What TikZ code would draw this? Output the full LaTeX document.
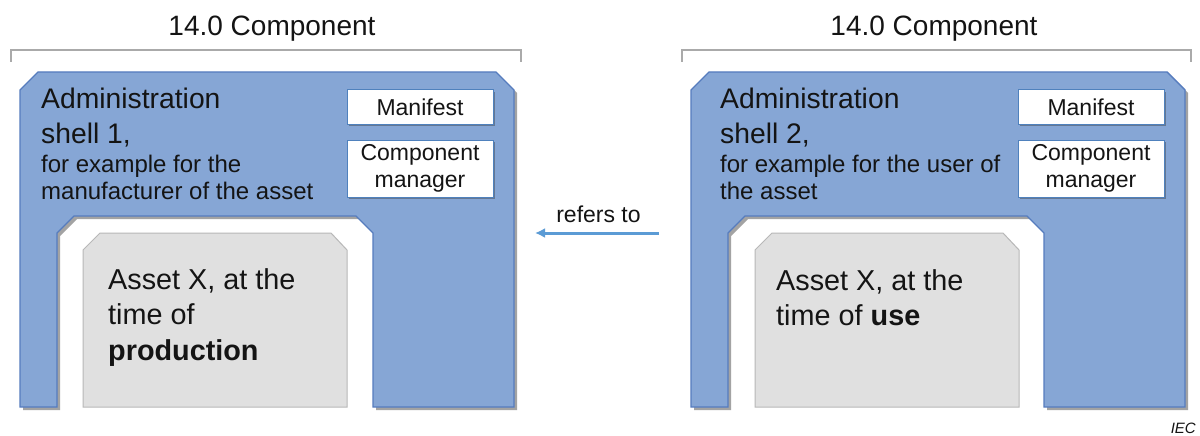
\documentclass[tikz,border=0pt]{standalone}
\usepackage{fontspec}
\setmainfont{Liberation Sans}
\usetikzlibrary{shadows,arrows.meta}
\definecolor{shellblue}{RGB}{134,166,213}
\definecolor{shellborder}{RGB}{86,124,190}
\definecolor{assetgray}{RGB}{224,224,224}
\definecolor{assetborder}{RGB}{184,184,184}
\definecolor{arrowblue}{RGB}{91,155,213}
\definecolor{bracketgray}{RGB}{170,170,170}
\definecolor{boxborder}{RGB}{79,129,189}
\definecolor{txt}{RGB}{20,20,20}
\begin{document}
\begin{tikzpicture}[x=1pt,y=-1pt,
  shell/.style={fill=shellblue, draw=shellborder, line width=1.4pt, line join=miter,
    drop shadow={shadow xshift=3pt, shadow yshift=-3pt, opacity=0.45, fill=black!80}},
  asset/.style={fill=assetgray, draw=assetborder, line width=1pt},
  bracket/.style={draw=bracketgray, line width=1.5pt},
  mbox/.style={fill=white, draw=boxborder, line width=1pt, inner sep=0pt,
    minimum width=146pt, align=center, text=txt,
    font=\fontsize{23}{27}\selectfont,
    drop shadow={shadow xshift=2pt, shadow yshift=-2pt, opacity=0.4, fill=black!80}},
  title/.style={font=\fontsize{28}{32}\selectfont, anchor=base, inner sep=0pt, text=txt},
  bigtxt/.style={font=\fontsize{28.3}{32}\selectfont, anchor=base west, inner sep=0pt, text=txt},
  smalltxt/.style={font=\fontsize{24}{27}\selectfont, anchor=base west, inner sep=0pt, text=txt},
  assettxt/.style={font=\fontsize{28.8}{35}\selectfont, anchor=base west, inner sep=0pt, text=txt},
  reftxt/.style={font=\fontsize{23}{25}\selectfont, anchor=base, inner sep=0pt, text=txt},
  refarrow/.style={draw=arrowblue, line width=3pt, -{Latex[length=10pt,width=10pt]}}
]
\useasboundingbox[fill=white] (0,0) rectangle (1200,436);

% ---------- titles and brackets ----------
\node[title] (t1) at (272,36) {14.0 Component};
\node[title] (t2) at (934,36) {14.0 Component};
\draw[bracket] (11,62) -- (11,50) -- (521,50) -- (521,62);
\draw[bracket] (682,62) -- (682,50) -- (1191,50) -- (1191,62);

% ---------- left shell ----------
\path[shell] (20,407) -- (20,90) -- (38,72) -- (496,72) -- (514,90) -- (514,407)
  -- (373,407) -- (373,233) -- (356,216) -- (74,216) -- (57,233) -- (57,407) -- cycle;
\path[asset] (83,407) -- (83,250) -- (100,233) -- (331,233) -- (347,250) -- (347,407) -- cycle;

% ---------- right shell ----------
\path[shell] (691,407) -- (691,90) -- (709,72) -- (1167,72) -- (1185,90) -- (1185,407)
  -- (1044,407) -- (1044,233) -- (1027,216) -- (745,216) -- (728,233) -- (728,407) -- cycle;
\path[asset] (755,407) -- (755,250) -- (772,233) -- (1003,233) -- (1019,250) -- (1019,407) -- cycle;

% ---------- boxes ----------
\node[mbox, minimum height=34pt] (man1) at (420,107) {Manifest};
\node[mbox, minimum height=57pt] (cm1) at (420,168.5) {Component\\manager};
\node[mbox, minimum height=34pt] (man2) at (1091,107) {Manifest};
\node[mbox, minimum height=57pt] (cm2) at (1091,168.5) {Component\\manager};

% ---------- left texts ----------
\node[bigtxt] (a1l1) at (41,108) {Administration};
\node[bigtxt] (a1l2) at (41,143) {shell 1,};
\node[smalltxt] (a1l3) at (41,172.5) {for example for the};
\node[smalltxt] (a1l4) at (41,199.5) {manufacturer of the asset};
\node[assettxt] (x1l1) at (108,289) {Asset X, at the};
\node[assettxt] (x1l2) at (108,324.5) {time of};
\node[assettxt] (x1l3) at (108,360) {\textbf{production}};

% ---------- right texts ----------
\node[bigtxt] (a2l1) at (720,108) {Administration};
\node[bigtxt] (a2l2) at (720,143) {shell 2,};
\node[smalltxt] (a2l3) at (720,172.5) {for example for the user of};
\node[smalltxt] (a2l4) at (720,199.5) {the asset};
\node[assettxt] (x2l1) at (776,290) {Asset X, at the};
\node[assettxt] (x2l2) at (776,325.5) {time of \textbf{use}};

% ---------- arrow ----------
\node[reftxt] (ref) at (598.5,222) {refers to};
\coordinate (arrS) at (659,233);
\coordinate (arrE) at (535,233);
\draw[refarrow] (arrS) -- (arrE);

% ---------- IEC ----------
\node[font=\fontsize{15}{17}\selectfont\itshape, anchor=base east, inner sep=0pt, text=txt] (iec) at (1196,433) {IEC};
\end{tikzpicture}
\end{document}
